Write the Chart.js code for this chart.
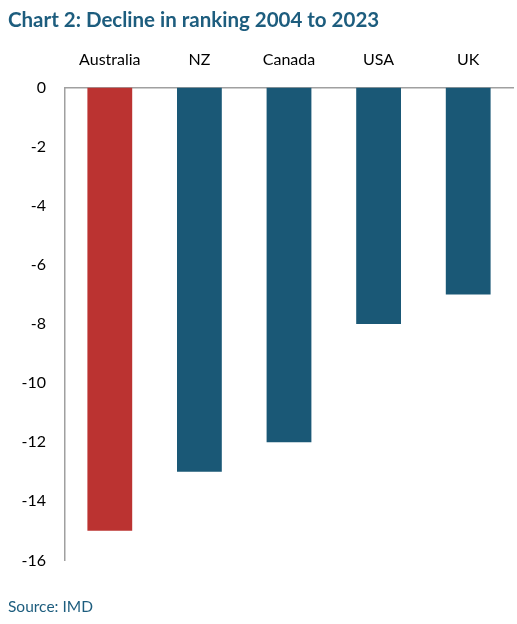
<!DOCTYPE html>
<html>
<head>
<meta charset="utf-8">
<script src="https://cdn.jsdelivr.net/npm/chart.js@4.4.0/dist/chart.umd.min.js"></script>
<style>
  html, body { margin: 0; padding: 0; background: #fff; }
  #wrap { width: 517px; height: 624px; }
</style>
</head>
<body>
<div id="wrap"><canvas id="c" width="517" height="624"></canvas></div>
<script>
// data
const countries = ["Australia", "NZ", "Canada", "USA", "UK"];
const decline = [-15, -13, -12, -8, -7];
const barColors = ["#bb3331", "#1a5876", "#1a5876", "#1a5876", "#1a5876"];
const yTicks = [0, -2, -4, -6, -8, -10, -12, -14, -16];

const font = "Lato, 'Noto Sans', sans-serif";
const teal = "#1d5d7e";

const ctx = document.getElementById("c");
const myChart = new Chart(ctx, {
  type: "bar",
  data: {
    labels: countries,
    datasets: [
      {
        label: "Decline in ranking",
        data: decline,
        backgroundColor: barColors,
        borderWidth: 0,
        categoryPercentage: 1,
        barPercentage: 0.5,
      },
    ],
  },
  options: {
    responsive: false,
    animation: false,
    layout: {
      padding: { left: 8, right: 4, top: 0, bottom: 0 },
    },
    plugins: {
      legend: { display: false },
      tooltip: { enabled: false },
      title: {
        display: true,
        text: "Chart 2: Decline in ranking 2004 to 2023",
        align: "start",
        color: teal,
        font: { family: font, size: 20.5, weight: "bold" },
        padding: { top: 8, bottom: 10 },
      },
      subtitle: {
        display: true,
        position: "bottom",
        text: "Source: IMD",
        align: "start",
        color: teal,
        font: { family: font, size: 15.5 },
        padding: { top: 37, bottom: 8 },
      },
    },
    scales: {
      x: {
        position: "top",
        grid: { display: false },
        border: { display: true, color: "#a0a0a0", width: 1.5 },
        ticks: {
          color: "#000",
          font: { family: font, size: 16 },
          padding: 10,
        },
        afterFit: (scale) => { scale.height = 45; },
      },
      y: {
        min: -16,
        max: 0,
        grid: { display: false },
        border: { display: true, color: "#a0a0a0", width: 1.5 },
        afterBuildTicks: (scale) => {
          scale.ticks = yTicks.map((v) => ({ value: v }));
        },
        ticks: {
          color: "#000",
          font: { family: font, size: 16 },
          padding: 11,
        },
        afterFit: (scale) => { scale.width = 57; },
      },
    },
  },
});
</script>
</body>
</html>
